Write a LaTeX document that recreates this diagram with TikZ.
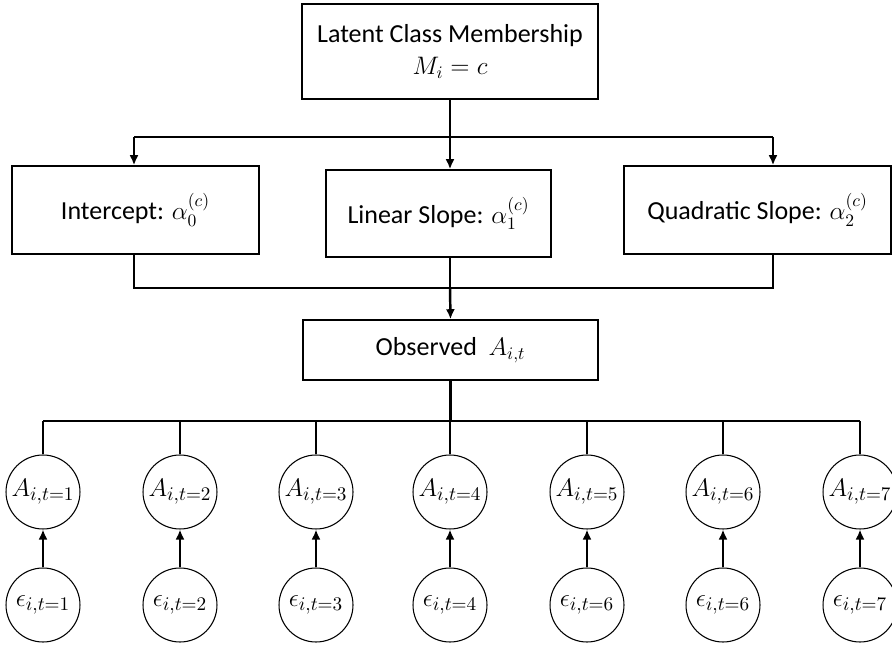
\documentclass[tikz,border=0pt]{standalone}
\usepackage{amsmath}
\usepackage{fontspec}
\setmainfont{Carlito}
\usetikzlibrary{arrows.meta}

\begin{document}
\begin{tikzpicture}[x=0.02cm,y=-0.02cm,
		box/.style={draw, line width=0.9pt, inner sep=0pt, align=center, font=\fontsize{14.8}{18}\selectfont},
		var/.style={draw, circle, line width=0.6pt, minimum size=1.48cm, inner sep=0pt, font=\fontsize{15.5}{18}\selectfont},
		conn/.style={line width=1.4pt},
		arr/.style={conn, -{Latex[length=2mm,width=1.8mm]}}]
				\useasboundingbox (0,0) rectangle (892,645);
				
				% boxes
				\node[box, minimum width=5.92cm, minimum height=1.9cm] (top) at (450,51.5)
					{Latent Class Membership\\ $M_i = c$};
				\node[box, minimum width=4.94cm, minimum height=1.76cm] (icpt) at (135.5,210)
					{Intercept: $\alpha_0^{(c)}$};
				\node[box, minimum width=4.5cm, minimum height=1.74cm] (lin) at (438.5,213.5)
					{Linear Slope: $\alpha_1^{(c)}$};
				\node[box, minimum width=5.34cm, minimum height=1.76cm] (quad) at (757.5,210)
					{Quadratic Slope: $\alpha_2^{(c)}$};
				\node[box, minimum width=5.9cm, minimum height=1.2cm] (obs) at (450.5,350)
					{Observed \ $A_{i,t}$};
				
				% branch points
				\coordinate (b1) at (134,137);
				\coordinate (b2) at (773,137);
				\coordinate (c1) at (134,288);
				\coordinate (c2) at (773,288);
				\coordinate (d1) at (43,421);
				\coordinate (d7) at (860,421);
				
				% circles
				\foreach \i/\x/\e in
				{1/43/1, 2/180/2, 3/316/3, 4/450/4, 5/587/6, 6/723/6, 7/860/7}{
					\node[var] (A\i) at (\x,492) {$A_{i,t=\i}$};
					\node[var] (E\i) at (\x,605) {$\epsilon_{i,t=\e}$};
				}
				
				% top to slopes
				\draw[conn] (top.south) -- (top.south |- b1);
				\draw[conn] (b1) -- (b2);
				\draw[arr] (b1) -- (b1 |- icpt.north);
				\draw[arr] (top.south |- b1) -- (top.south |- lin.north);
				\draw[arr] (b2) -- (b2 |- quad.north);
				
				% slopes to observed
				\draw[conn] (c1 |- icpt.south) -- (c1) -- (c2) -- (c2 |- quad.south);
				\draw[conn] (top.south |- lin.south) -- (top.south |- c1);
				\draw[arr] (top.south |- c1) -- (obs.north);
				
				% observed to time points
				\draw[conn] (obs.south) -- (obs.south |- d1);
				\draw[conn] (d1) -- (d7);
				\foreach \i in {1,...,7}{
					\draw[conn] (A\i.north) -- (A\i.north |- d1);
					\draw[arr] (E\i) -- (A\i);
				}
			\end{tikzpicture}
\end{document}
